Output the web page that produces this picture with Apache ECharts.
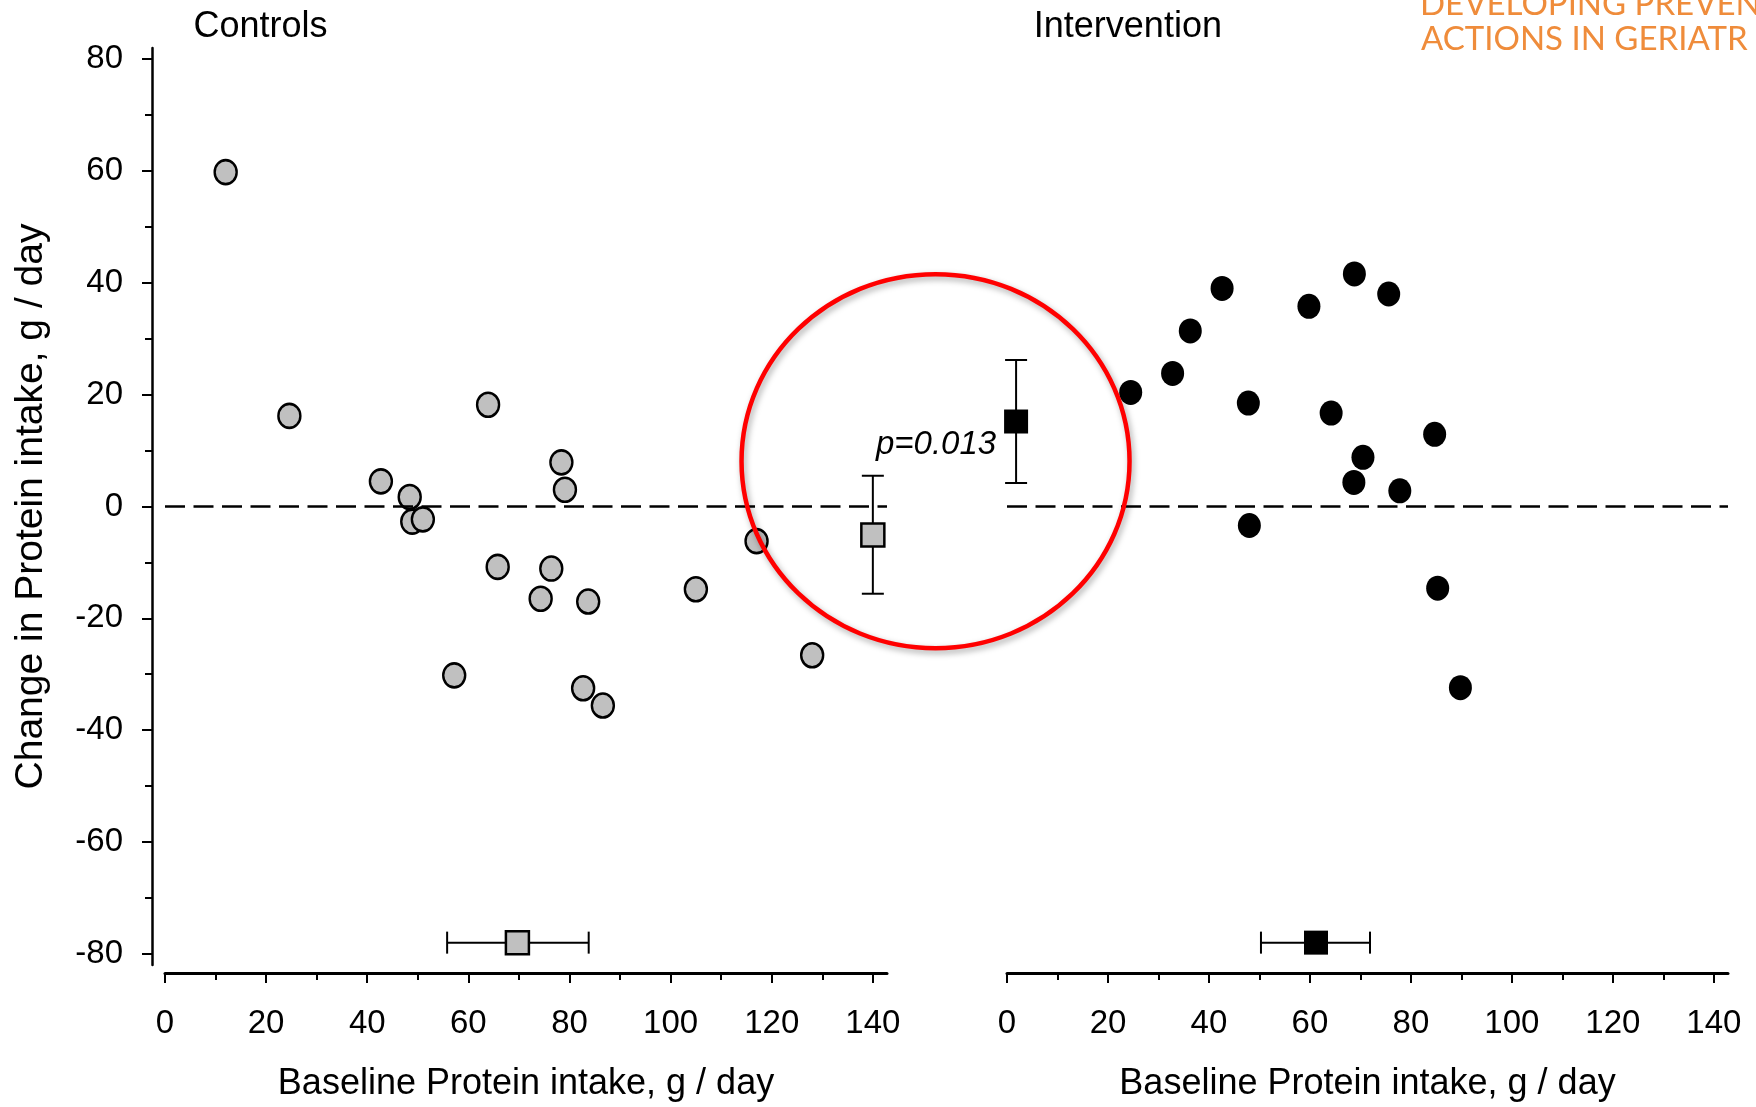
<!DOCTYPE html>
<html>
<head>
<meta charset="utf-8">
<title>Baseline vs change in protein intake</title>
<script src="https://cdn.jsdelivr.net/npm/echarts@6/dist/echarts.min.js"></script>
<style>
  html, body { margin: 0; padding: 0; background: #fff; }
  #chart { width: 1756px; height: 1107px; }
</style>
</head>
<body>
<div id="chart"></div>
<script>
// baseline intake vs change, g/day
const controlBaseline = [12.0, 24.6, 42.7, 48.4, 48.9, 51.0, 63.9, 65.8, 78.4, 79.1, 76.4, 74.3, 83.7, 57.2, 82.7, 86.6, 105.0, 117.0, 128.0];
const controlChange   = [59.8, 16.2, 4.5, 1.7, -2.7, -2.3, 18.2, -10.8, 7.9, 3.0, -11.1, -16.5, -17.0, -30.2, -32.5, -35.6, -14.8, -6.2, -26.6];
const interventionBaseline = [24.5, 32.8, 36.3, 42.6, 47.8, 48.0, 59.8, 68.8, 75.6, 64.2, 70.5, 68.7, 77.8, 84.7, 85.3, 89.8];
const interventionChange   = [20.4, 23.8, 31.4, 39.0, 18.5, -3.4, 35.8, 41.6, 38.0, 16.7, 8.8, 4.3, 2.8, 12.9, -14.6, -32.4];

// group means with error bars: [x, y, low, high]
const controlChangeMean      = [140, -5.1, -15.6, 5.5];
const interventionChangeMean = [1.8, 15.2, 4.2, 26.2];
const controlBaselineMean      = [69.7, -78, 55.8, 83.8];
const interventionBaselineMean = [61.2, -78, 50.3, 71.9];

const xMajor = [0, 20, 40, 60, 80, 100, 120, 140];
const xMinor = [10, 30, 50, 70, 90, 110, 130];
const yMajor = [-80, -60, -40, -20, 0, 20, 40, 60, 80];
const yMinor = [-70, -50, -30, -10, 10, 30, 50, 70];

const panelTitles = ['Controls', 'Intervention'];
const xName = 'Baseline Protein intake, g / day';
const yName = 'Change in Protein intake, g / day';
const pValue = 'p=0.013';
const logoLines = ['DEVELOPING PREVENT', 'ACTIONS IN GERIATR'];

// where the red highlight sits, in Controls data units
const highlightCentre = [152.4, 8.1];
const pTextCentre = [152.5, 11.1];

const FONT = '"Liberation Sans", Arial, sans-serif';
const X_MAX = 142.8;
const Y_LIM = 82;

const zip = (a, b) => a.map((v, i) => [v, b[i]]);

function xAxes(gridIndex) {
  return [{
    type: 'value', gridIndex, position: 'bottom', min: 0, max: X_MAX, offset: 8,
    axisLine: { show: true, onZero: false, lineStyle: { color: '#000', width: 3 } },
    axisTick: { show: true, length: 10, customValues: xMajor, lineStyle: { color: '#000', width: 2 } },
    axisLabel: { customValues: xMajor, margin: 34, fontSize: 33, color: '#000', fontFamily: FONT },
    splitLine: { show: false },
    name: xName, nameLocation: 'middle', nameGap: 93,
    nameTextStyle: { fontSize: 36, color: '#000', fontFamily: FONT },
  }, {
    type: 'value', gridIndex, position: 'bottom', min: 0, max: X_MAX, offset: 8,
    axisLine: { show: false, onZero: false },
    axisTick: { show: true, length: 7, customValues: xMinor, lineStyle: { color: '#000', width: 2 } },
    axisLabel: { show: false },
    splitLine: { show: false },
  }];
}

// vertical error bar (x, low..high)
function vBar(params, api) {
  const x = api.value(0);
  const a = api.coord([x, api.value(3)]);
  const b = api.coord([x, api.value(2)]);
  const w = 11;
  const style = { stroke: '#000', lineWidth: 2 };
  return { type: 'group', children: [
    { type: 'line', shape: { x1: a[0], y1: a[1], x2: b[0], y2: b[1] }, style },
    { type: 'line', shape: { x1: a[0] - w, y1: a[1], x2: a[0] + w, y2: a[1] }, style },
    { type: 'line', shape: { x1: b[0] - w, y1: b[1], x2: b[0] + w, y2: b[1] }, style },
  ] };
}

// horizontal error bar (y, low..high)
function hBar(params, api) {
  const y = api.value(1);
  const a = api.coord([api.value(2), y]);
  const b = api.coord([api.value(3), y]);
  const h = 11;
  const style = { stroke: '#000', lineWidth: 2 };
  return { type: 'group', children: [
    { type: 'line', shape: { x1: a[0], y1: a[1], x2: b[0], y2: b[1] }, style },
    { type: 'line', shape: { x1: a[0], y1: a[1] - h, x2: a[0], y2: a[1] + h }, style },
    { type: 'line', shape: { x1: b[0], y1: b[1] - h, x2: b[0], y2: b[1] + h }, style },
  ] };
}

const zeroLine = {
  silent: true, symbol: 'none', label: { show: false },
  lineStyle: { color: '#000', width: 2.5, type: [20, 8.5] },
  data: [{ yAxis: 0 }],
};

const option = {
  animation: false,
  backgroundColor: '#fff',
  grid: [
    { left: 165, top: 48, width: 722, height: 918.6 },
    { left: 1007, top: 48, width: 721, height: 918.6 },
  ],
  xAxis: [...xAxes(0), ...xAxes(1)],
  yAxis: [{
    type: 'value', gridIndex: 0, position: 'left', min: -Y_LIM, max: Y_LIM, offset: 13,
    axisLine: { show: true, onZero: false, lineStyle: { color: '#000', width: 2.5 } },
    axisTick: { show: true, length: 10, customValues: yMajor, lineStyle: { color: '#000', width: 2 } },
    axisLabel: { customValues: yMajor, margin: 29, fontSize: 33, color: '#000', fontFamily: FONT },
    splitLine: { show: false },
    name: yName, nameLocation: 'middle', nameGap: 101,
    nameTextStyle: { fontSize: 39, color: '#000', fontFamily: FONT },
  }, {
    type: 'value', gridIndex: 0, position: 'left', min: -Y_LIM, max: Y_LIM, offset: 13,
    axisLine: { show: false, onZero: false },
    axisTick: { show: true, length: 7, customValues: yMinor, lineStyle: { color: '#000', width: 2 } },
    axisLabel: { show: false },
    splitLine: { show: false },
  }, {
    type: 'value', gridIndex: 1, min: -Y_LIM, max: Y_LIM, show: false,
  }],
  series: [
    {
      name: 'Controls', type: 'scatter', xAxisIndex: 0, yAxisIndex: 0,
      data: zip(controlBaseline, controlChange),
      symbol: 'circle', symbolSize: [22, 24],
      itemStyle: { color: '#c0c0c0', borderColor: '#000', borderWidth: 2.5, opacity: 1 },
      markLine: zeroLine, z: 3,
    },
    {
      name: 'Intervention', type: 'scatter', xAxisIndex: 2, yAxisIndex: 2,
      data: zip(interventionBaseline, interventionChange),
      symbol: 'circle', symbolSize: [23, 25],
      itemStyle: { color: '#000', opacity: 1 },
      markLine: zeroLine, z: 3,
    },
    { type: 'custom', xAxisIndex: 0, yAxisIndex: 0, renderItem: vBar, data: [controlChangeMean], encode: { x: 0, y: 1 }, z: 2, silent: true },
    { type: 'custom', xAxisIndex: 0, yAxisIndex: 0, renderItem: hBar, data: [controlBaselineMean], encode: { x: 0, y: 1 }, z: 2, silent: true },
    { type: 'custom', xAxisIndex: 2, yAxisIndex: 2, renderItem: vBar, data: [interventionChangeMean], encode: { x: 0, y: 1 }, z: 2, silent: true },
    { type: 'custom', xAxisIndex: 2, yAxisIndex: 2, renderItem: hBar, data: [interventionBaselineMean], encode: { x: 0, y: 1 }, z: 2, silent: true },
    {
      name: 'Controls mean', type: 'scatter', xAxisIndex: 0, yAxisIndex: 0,
      data: [controlChangeMean.slice(0, 2), controlBaselineMean.slice(0, 2)],
      symbol: 'rect', symbolSize: 23,
      itemStyle: { color: '#c0c0c0', borderColor: '#000', borderWidth: 2.5, opacity: 1 }, z: 4,
    },
    {
      name: 'Intervention mean', type: 'scatter', xAxisIndex: 2, yAxisIndex: 2,
      data: [interventionChangeMean.slice(0, 2), interventionBaselineMean.slice(0, 2)],
      symbol: 'rect', symbolSize: 24,
      itemStyle: { color: '#000', opacity: 1 }, z: 4,
    },
  ],
};

const chart = echarts.init(document.getElementById('chart'), null, { renderer: 'canvas' });
chart.setOption(option);

// annotations placed after layout so they follow the axes
const ctr = chart.convertToPixel({ xAxisIndex: 0, yAxisIndex: 0 }, highlightCentre);
const pPos = chart.convertToPixel({ xAxisIndex: 0, yAxisIndex: 0 }, pTextCentre);
const left0 = chart.convertToPixel({ xAxisIndex: 0 }, 0);
const right0 = chart.convertToPixel({ xAxisIndex: 0 }, 140);
const left1 = chart.convertToPixel({ xAxisIndex: 2 }, 0);
const right1 = chart.convertToPixel({ xAxisIndex: 2 }, 140);

chart.setOption({
  graphic: [
    { type: 'text', id: 't0', x: left0 + (right0 - left0) * 0.135, y: 27,
      style: { text: panelTitles[0], fontSize: 36, fontFamily: FONT, fill: '#000', align: 'center', verticalAlign: 'middle' } },
    { type: 'text', id: 't1', x: left1 + (right1 - left1) * 0.171, y: 27,
      style: { text: panelTitles[1], fontSize: 36, fontFamily: FONT, fill: '#000', align: 'center', verticalAlign: 'middle' } },
    { type: 'ellipse', id: 'hl', z: 10, silent: true,
      shape: { cx: ctr[0], cy: ctr[1], rx: 194, ry: 187 },
      style: { fill: 'none', stroke: '#ff0000', lineWidth: 4.5, shadowBlur: 6, shadowColor: 'rgba(0,0,0,0.35)', shadowOffsetX: 2, shadowOffsetY: 3 } },
    { type: 'text', id: 'p', z: 11, x: pPos[0], y: pPos[1],
      style: { text: pValue, fontSize: 33, fontStyle: 'italic', fontFamily: FONT, fill: '#000', align: 'center', verticalAlign: 'middle' } },
    { type: 'text', id: 'logo0', x: 1420, y: 4,
      style: { text: logoLines[0], fontSize: 33, fontFamily: 'Lato, "Open Sans", sans-serif', fill: '#ef8c3b', align: 'left', verticalAlign: 'middle' } },
    { type: 'text', id: 'logo1', x: 1421, y: 39,
      style: { text: logoLines[1], fontSize: 33, fontFamily: 'Lato, "Open Sans", sans-serif', fill: '#ef8c3b', align: 'left', verticalAlign: 'middle' } },
  ],
});
</script>
</body>
</html>
